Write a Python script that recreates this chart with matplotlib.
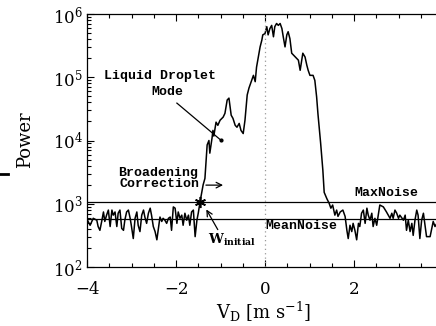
import matplotlib
matplotlib.use('Agg')
import matplotlib.pyplot as plt
import numpy as np
from matplotlib.lines import Line2D
from matplotlib.ticker import MultipleLocator, LogLocator

plt.rcParams['font.family'] = 'serif'
plt.rcParams['font.serif'] = ['DejaVu Serif']
plt.rcParams['mathtext.fontset'] = 'dejavuserif'

# Doppler velocity [m/s] and log10 of spectral power
velocity = [
    -3.99, -3.93, -3.86, -3.78, -3.75, -3.71, -3.67, -3.63, -3.60, -3.56,
    -3.52, -3.48, -3.44, -3.41, -3.37, -3.33, -3.30, -3.26, -3.22, -3.18,
    -3.15, -3.11, -3.07, -3.03, -3.00, -2.96, -2.92, -2.88, -2.85, -2.81,
    -2.77, -2.73, -2.70, -2.66, -2.62, -2.58, -2.55, -2.51, -2.47, -2.43,
    -2.40, -2.36, -2.32, -2.29, -2.25, -2.21, -2.17, -2.13, -2.10, -2.06,
    -2.02, -1.98, -1.95, -1.91, -1.87, -1.84, -1.80, -1.76, -1.72, -1.69,
    -1.65, -1.61, -1.57, -1.53, -1.50, -1.46,
    -1.39, -1.35, -1.30, -1.26, -1.24, -1.19, -1.17, -1.15, -1.10, -1.06,
    -1.01, -0.94, -0.90, -0.85, -0.81, -0.76, -0.72, -0.67, -0.63, -0.58,
    -0.54, -0.49, -0.45, -0.40, -0.36, -0.30, -0.26, -0.22, -0.19, -0.15,
    -0.11, -0.07, -0.05, 0.00, 0.04, 0.07, 0.11, 0.15, 0.19, 0.22,
    0.26, 0.30, 0.34, 0.38, 0.41, 0.45, 0.49, 0.52, 0.56, 0.60,
    0.64, 0.71, 0.75, 0.79, 0.85, 0.90, 0.94, 0.97, 1.01, 1.08,
    1.12, 1.16, 1.19, 1.25, 1.30, 1.33, 1.39, 1.44, 1.48, 1.52,
    1.57, 1.61, 1.64, 1.69, 1.75, 1.80, 1.84, 1.87, 1.91, 1.95,
    1.98, 2.02, 2.06, 2.10, 2.13, 2.17, 2.21, 2.25, 2.29, 2.32,
    2.36, 2.40, 2.43, 2.47, 2.51, 2.58, 2.66, 2.73, 2.81, 2.85,
    2.88, 2.92, 2.96, 3.00, 3.03, 3.11, 3.15, 3.18, 3.22, 3.26,
    3.30, 3.33, 3.37, 3.41, 3.44, 3.48, 3.52, 3.56, 3.60, 3.63,
    3.71, 3.75, 3.78, 3.82, 3.87, 3.93, 4.00,
]
log_power = [
    2.74, 2.66, 2.77, 2.74, 2.64, 2.58, 2.72, 2.87, 2.72, 2.82,
    2.90, 2.64, 2.90, 2.82, 2.87, 2.64, 2.85, 2.90, 2.61, 2.58,
    2.74, 2.87, 2.90, 2.77, 2.64, 2.45, 2.77, 2.87, 2.66, 2.56,
    2.82, 2.90, 2.79, 2.69, 2.85, 2.93, 2.82, 2.64, 2.56, 2.43,
    2.58, 2.79, 2.72, 2.77, 2.74, 2.69, 2.77, 2.79, 2.58, 2.95,
    2.93, 2.69, 2.87, 2.77, 2.82, 2.66, 2.85, 2.74, 2.82, 2.66,
    2.87, 2.90, 2.48, 2.74, 2.85, 3.03,
    3.30, 3.40, 3.93, 4.00, 3.80, 4.04, 4.16, 4.07, 4.29, 4.24,
    4.32, 4.37, 4.43, 4.64, 4.67, 4.40, 4.35, 4.24, 4.21, 4.27,
    4.16, 4.11, 4.32, 4.72, 4.83, 4.95, 5.03, 4.93, 5.16, 5.32,
    5.48, 5.59, 5.67, 5.69, 5.80, 5.67, 5.77, 5.82, 5.64, 5.80,
    5.85, 5.82, 5.85, 5.77, 5.64, 5.48, 5.67, 5.72, 5.61, 5.38,
    5.35, 5.30, 5.27, 5.11, 5.38, 5.32, 5.19, 5.11, 5.03, 5.03,
    4.95, 4.69, 4.42, 3.96, 3.53, 3.18, 3.08, 3.01, 2.93, 2.98,
    2.82, 2.90, 2.80, 2.87, 2.90, 2.80, 2.58, 2.45, 2.66, 2.56,
    2.69, 2.58, 2.43, 2.69, 2.64, 2.85, 2.90, 2.69, 2.93, 2.82,
    2.74, 2.85, 2.64, 2.77, 2.66, 2.98, 2.95, 2.87, 2.77, 2.85,
    2.77, 2.90, 2.85, 2.77, 2.82, 2.74, 2.82, 2.58, 2.74, 2.56,
    2.69, 2.50, 2.74, 2.90, 2.82, 2.45, 2.74, 2.85, 2.64, 2.48,
    2.48, 2.62, 2.72, 2.64, 2.70, 2.60, 2.75,
]
power = 10 ** np.array(log_power)

x_ticks = [-4, -2, 0, 2, 4]
x_tick_labels = ['\u22124', '\u22122', '0', '2', '']

max_noise = 1060
mean_noise = 580
w_initial = (-1.46, 1060)

fig = plt.figure(figsize=(4.36, 3.26), dpi=100)
ax = fig.add_axes([87 / 436, 59 / 326, 356 / 436, 253 / 326])

ax.plot(velocity, power, color='black', lw=1.1)
ax.axhline(max_noise, color='black', lw=0.9)
ax.axhline(mean_noise, color='black', lw=0.9)
ax.axvline(0, color='#999999', lw=0.9, ls=(0, (1, 2.5)))
ax.plot(*w_initial, marker=(6, 2, 0), color='black', ms=8, mew=1.2)

ax.set_yscale('log')
ax.set_xlim(-4, 4)
ax.set_ylim(1e2, 1e6)
ax.set_xticks(x_ticks, x_tick_labels)
ax.xaxis.set_minor_locator(MultipleLocator(0.5))
ax.yaxis.set_minor_locator(LogLocator(base=10, subs=np.arange(2, 10)))
ax.tick_params(which='both', direction='in', top=True, right=False,
               width=0.8, labelsize=12)
ax.tick_params(which='major', length=5)
ax.tick_params(which='minor', length=3)
ax.tick_params(axis='x', pad=10)
ax.tick_params(axis='y', pad=3)
ax.yaxis.set_minor_formatter(plt.NullFormatter())
for s in ax.spines.values():
    s.set_linewidth(0.9)

mono = dict(family='Liberation Mono', weight='bold', fontsize=9.5,
            ha='center', va='center')
ax.text(-2.36, 1.05e5, 'Liquid Droplet', **mono)
ax.text(-2.20, 5.8e4, 'Mode', **mono)
ax.plot([-1.98, -0.99], [3.9e4, 1.01e4], color='black', lw=0.9)
ax.plot(-0.99, 1.01e4, 'o', color='black', ms=2)

ax.text(-2.40, 3.05e3, 'Broadening', **mono)
ax.text(-2.36, 2.04e3, 'Correction', **mono)
ax.annotate('', xy=(-0.88, 1970), xytext=(-1.39, 1970),
            arrowprops=dict(arrowstyle='->', lw=0.9, color='black'))

ax.text(2.72, 1.48e3, 'MaxNoise', **mono)
ax.text(0.81, 444, 'MeanNoise', **mono)

ax.annotate('', xy=(-1.35, 887), xytext=(-1.03, 357),
            arrowprops=dict(arrowstyle='->', lw=0.9, color='black'))
ax.text(-1.29, 267, r'$\mathbf{W}_{\mathbf{initial}}$', fontsize=9.5,
        ha='left', va='center')

fig.text(25 / 436, 1 - 140 / 326, 'Power', rotation=90, fontsize=13,
         ha='center', va='center')
fig.text(264 / 436, 1 - 312 / 326, r'V$_{\rm D}$ [m s$^{-1}$]', fontsize=13,
         ha='center', va='center')
fig.add_artist(Line2D([0, 8 / 436], [1 - 174 / 326] * 2, color='black', lw=2))

fig.savefig('out.png', dpi=100)
